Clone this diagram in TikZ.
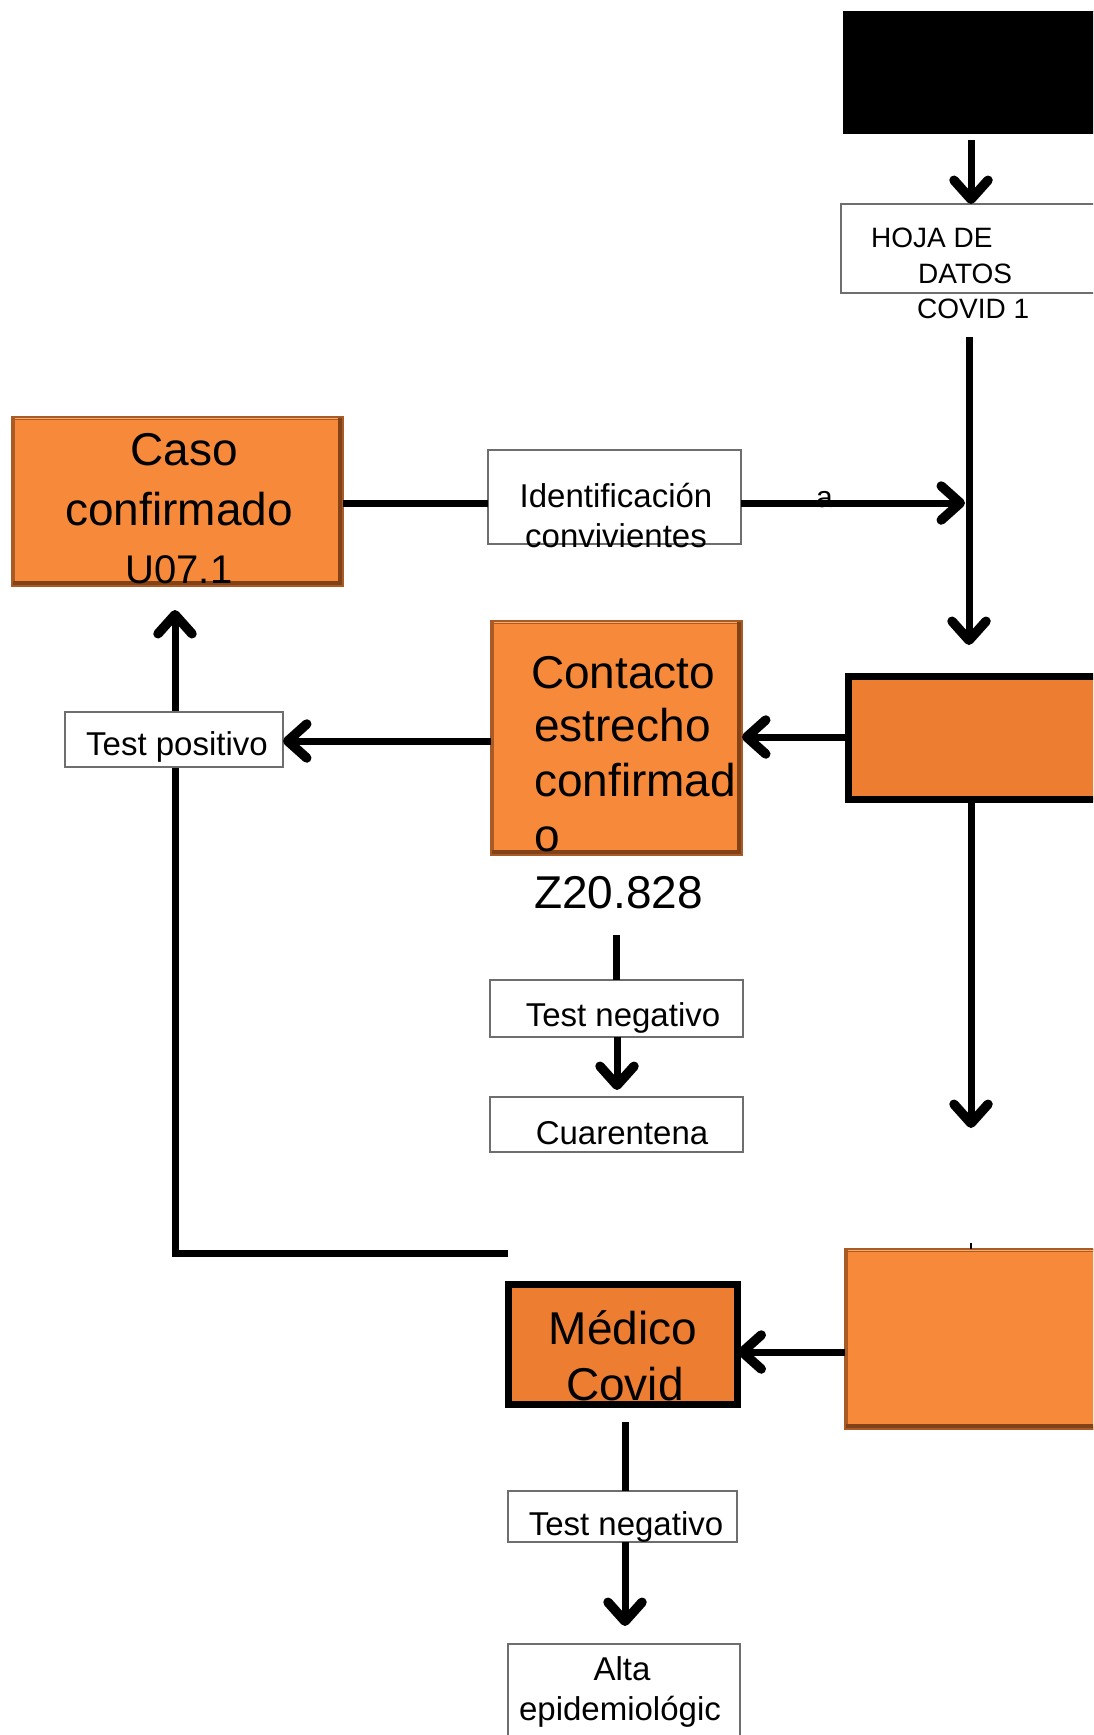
\documentclass[tikz,border=0pt]{standalone}
\usepackage{fontspec}
\setmainfont{Liberation Sans}
\usetikzlibrary{arrows.meta}
\definecolor{orB}{RGB}{247,138,58}
\definecolor{brB}{RGB}{170,90,36}
\definecolor{brD}{RGB}{130,66,24}
\definecolor{orL}{RGB}{250,170,100}
\definecolor{orF}{RGB}{237,125,49}
\definecolor{grB}{RGB}{110,110,110}
\tikzset{
  bevel/.style={fill=orB, draw=brB, line width=2pt, inner sep=0pt, outer sep=0pt, anchor=north west,
    path picture={
      \draw[line width=6pt, brB] (path picture bounding box.south west) rectangle (path picture bounding box.north east);
      \draw[line width=10pt, brD] (path picture bounding box.south west) -- (path picture bounding box.south east) -- (path picture bounding box.north east);
      \draw[line width=4pt, orL] ([xshift=3pt]path picture bounding box.north west) -- ([xshift=-5pt]path picture bounding box.north east);
    }},
  flat/.style={fill=orF, draw=black, line width=7pt, inner sep=0pt, outer sep=0pt, anchor=north west},
  wbox/.style={fill=white, draw=grB, line width=2pt, inner sep=0pt, outer sep=0pt, anchor=north west},
  blkbox/.style={fill=black, draw=black, inner sep=0pt, outer sep=0pt, anchor=north west},
  bigtxt/.style={font=\fontsize{46}{55}\selectfont, inner sep=0pt, anchor=base},
  smalltxt/.style={font=\fontsize{33}{40}\selectfont, inner sep=0pt, anchor=base},
  tinytxt/.style={font=\fontsize{28}{34}\selectfont, inner sep=0pt, anchor=base west},
  ln/.style={line width=7pt},
  arr/.style={line width=7pt, -{Straight Barb[length=19pt,width=34pt,round,line width=2.5pt 1]}}
}
\begin{document}
\begin{tikzpicture}[x=1pt,y=-1pt]
\clip (0,0) rectangle (1093,1735);
\fill[white] (0,0) rectangle (1093,1735);

% boxes
\node[blkbox, minimum width=270pt, minimum height=122pt] (blk) at (843,11) {};
\node[wbox, minimum width=269pt, minimum height=89pt] (hoja) at (841,204) {};
\node[bevel, minimum width=331pt, minimum height=169pt] (caso) at (12,417) {};
\node[wbox, minimum width=253pt, minimum height=94pt] (ident) at (488,450) {};
\node[flat, minimum width=262pt, minimum height=123pt] (box5) at (848.5,676.5) {};
\node[bevel, minimum width=251pt, minimum height=234pt] (cont) at (491,621) {};
\node[wbox, minimum width=253pt, minimum height=57pt] (tn1) at (490,980) {};
\node[wbox, minimum width=253pt, minimum height=55pt] (cuar) at (490,1097) {};
\node[flat, minimum width=229pt, minimum height=120pt] (med) at (508.5,1284.5) {};
\node[bevel, minimum width=267pt, minimum height=180pt] (box7) at (845,1249) {};
\node[wbox, minimum width=229pt, minimum height=51pt] (tn2) at (508,1491) {};
\node[wbox, minimum width=232pt, minimum height=120pt] (alta) at (508,1644) {};

% helper coordinates
\coordinate (a1s) at (971,140);
\coordinate (v1s) at (969,337);
\coordinate (v1e) at (969,645);
\coordinate (j1) at (965,503);
\coordinate (y737) at (0,737);
\coordinate (y741) at (0,741);
\coordinate (v2s) at (971,803);
\coordinate (v2e) at (971,1128);
\coordinate (z1) at (616,935);
\coordinate (cuarTip) at (617,1090);
\coordinate (L1) at (508,1253);
\coordinate (L2) at (175,1253);
\coordinate (y1352) at (0,1352);
\coordinate (m1) at (625,1422);
\coordinate (altaTip) at (625,1626);

% connectors
\draw[arr] (a1s) -- (a1s |- hoja.north);
\draw[arr] (v1s) -- (v1e);
\draw[ln] (caso.east |- j1) -- (ident.west |- j1);
\draw[arr] (ident.east |- j1) -- (j1);
\draw[arr] (box5.west |- y737) -- (cont.east |- y737);
\draw[arr] (v2s) -- (v2e);
\draw[line width=2pt] (971,1243) -- (971,1249);
\draw[ln] (z1) -- (z1 |- tn1.north);
\draw[arr] (cuarTip |- tn1.south) -- (cuarTip);
\draw[arr] (L1) -- (L2) -- ([yshift=-24pt]caso.south -| L2);
\node[wbox, minimum width=218pt, minimum height=55pt] (tpos) at (65,712) {};
\draw[arr] (cont.west |- y741) -- (tpos.east |- y741);
\draw[arr] (box7.west |- y1352) -- (med.east |- y1352);
\draw[ln] (m1) -- (m1 |- tn2.north);
\draw[arr] (altaTip |- tn2.south) -- (altaTip);

% texts
\node[tinytxt] (tHoja) at (871,247) {HOJA DE};
\node[tinytxt] (tDatos) at (918,283) {DATOS};
\node[tinytxt] (tCovid) at (917,318) {COVID 1};
\node[bigtxt] (tCaso) at (184,465) {Caso};
\node[bigtxt] (tConf) at (179,525) {confirmado};
\node[bigtxt, font=\fontsize{40}{48}\selectfont] (tU07) at (179,583) {U07.1};
\node[smalltxt] (tIdent) at (616,507) {Identificación};
\node[smalltxt] (tConv) at (616,547) {convivientes};
\node[font=\fontsize{30}{36}\selectfont, inner sep=0pt, anchor=base west] (tA) at (816,507) {a};
\node[bigtxt, anchor=base west] (tCont) at (531,688) {Contacto};
\node[bigtxt, anchor=base west] (tEst) at (534,741) {estrecho};
\node[bigtxt, anchor=base west] (tConfd) at (534,796) {confirmad};
\node[bigtxt, anchor=base west] (tO) at (534,851) {o};
\node[bigtxt, anchor=base west] (tZ) at (534,908) {Z20.828};
\node[smalltxt] (tTn1) at (623,1026) {Test negativo};
\node[smalltxt] (tCuar) at (622,1144) {Cuarentena};
\node[smalltxt] (tTpos) at (177,755) {Test positivo};
\node[bigtxt] (tMed) at (623,1344) {Médico};
\node[bigtxt] (tCovid2) at (625,1400) {Covid};
\node[smalltxt] (tTn2) at (626,1535) {Test negativo};
\node[smalltxt] (tAlta) at (622,1680) {Alta};
\node[smalltxt] (tEpi) at (620,1720) {epidemiológic};
\end{tikzpicture}
\end{document}
